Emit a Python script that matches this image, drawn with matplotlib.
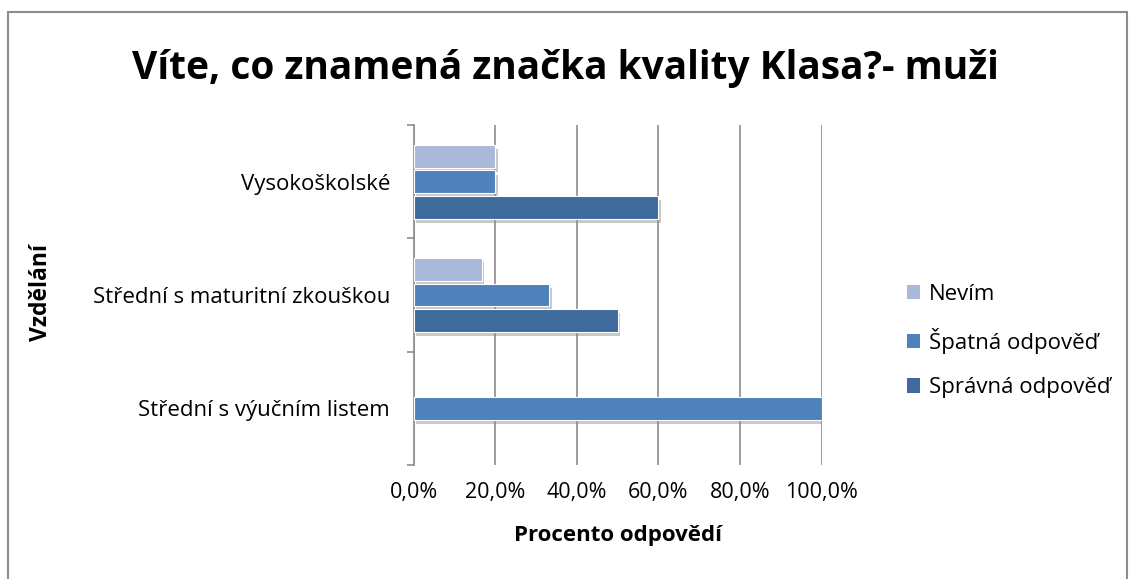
import numpy as np
import matplotlib
matplotlib.use("Agg")
import matplotlib.pyplot as plt
import matplotlib.patheffects as pe
from matplotlib.patches import Rectangle, Patch

# data
kategorie = ["Střední s výučním listem", "Střední s maturitní zkouškou", "Vysokoškolské"]
nevim = [0.0, 16.7, 20.0]
spatna = [100.0, 33.3, 20.0]
spravna = [0.0, 50.0, 60.0]
serie = ["Nevím", "Špatná odpověď", "Správná odpověď"]
barvy = ["#AAB9D9", "#4F81BD", "#3F6A9C"]
x_ticky = [0, 20, 40, 60, 80, 100]
x_popisky = ["0,0%", "20,0%", "40,0%", "60,0%", "80,0%", "100,0%"]

plt.rcParams['font.family'] = ['Open Sans', 'DejaVu Sans']

fig = plt.figure(figsize=(11.3, 5.79), dpi=100)
ax = fig.add_axes([0.366, 0.197, 0.361, 0.587])

y = np.arange(len(kategorie))
h = 0.2
off = 0.225
stin = [pe.SimplePatchShadow(offset=(2, -3), shadow_rgbFace="#888888", alpha=0.45), pe.Normal()]

hodnoty = [nevim, spatna, spravna]
posuny = [off, 0, -off]
for vals, name, c, p in zip(hodnoty, serie, barvy, posuny):
    bars = ax.barh(y + p, vals, height=h, color=c, edgecolor="white", linewidth=0.8, zorder=3)
    for b in bars:
        if b.get_width() > 0:
            b.set_path_effects(stin)
        else:
            b.set_linewidth(0)

ax.set_xlim(0, 100)
ax.set_ylim(-0.5, 2.5)
ax.set_xticks(x_ticky)
ax.set_xticklabels(x_popisky, fontsize=15.5)
ax.tick_params(axis="x", length=0, pad=12)
ax.grid(axis="x", color="#8C8C8C", linewidth=1.2, zorder=0)

ax.set_yticks([-0.5, 0.5, 1.5, 2.5])
ax.set_yticklabels([])
ax.set_yticks(y, minor=True)
ax.set_yticklabels(kategorie, minor=True, fontsize=16)
ax.tick_params(axis="y", which="major", length=5, color="#8C8C8C", width=1.2)
ax.tick_params(axis="y", which="minor", length=0, pad=17)

for s in ["top", "right", "bottom"]:
    ax.spines[s].set_visible(False)
ax.spines["left"].set_color("#8C8C8C")
ax.spines["left"].set_linewidth(1.2)

ax.set_xlabel("Procento odpovědí", fontsize=16, fontweight="bold", labelpad=16)
fig.text(0.036, 0.495, "Vzdělání", rotation=90, fontsize=16.5, fontweight="bold", ha="center", va="center")

fig.suptitle("Víte, co znamená značka kvality Klasa?- muži", fontsize=28, fontweight="bold", y=0.915)

handles = [Patch(facecolor=c, edgecolor="none") for c in barvy]
ax.legend(handles, serie, loc="center left", bbox_to_anchor=(0.785, 0.411), bbox_transform=fig.transFigure,
          frameon=False, fontsize=16, handlelength=0.6, handleheight=0.6,
          labelspacing=1.05, handletextpad=0.4)

fig.patches.append(Rectangle((0.007, -0.01), 0.99, 0.99, transform=fig.transFigure,
                             fill=False, edgecolor="#8C8C8C", linewidth=1.5))

fig.savefig("out.png", dpi=100)
